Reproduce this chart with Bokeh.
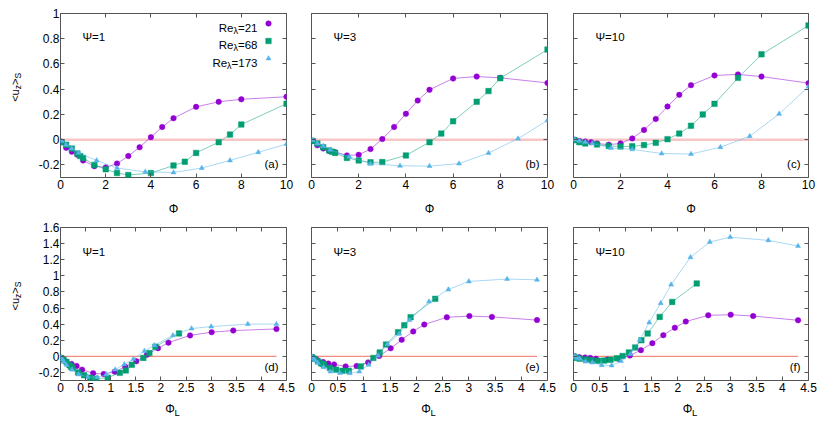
import math
from bokeh.plotting import figure
from bokeh.models import Range1d, FixedTicker, LinearAxis, Label, Spacer, CustomLabelingPolicy
from bokeh.layouts import row, column
from bokeh.embed import file_html
from bokeh.resources import INLINE

# ---------------- data ----------------
# top row: x = Phi
PHI_21 = [0.05, 0.25, 0.5, 0.75, 1, 1.5, 2, 2.5, 3, 3.5, 4, 4.5, 5, 6, 7, 8, 10]
PHI_68_AB = [0.05, 0.25, 0.5, 0.75, 0.875, 1, 1.5, 2, 2.5, 3, 4, 5, 5.5, 6, 7, 7.5, 8, 10]
PHI_68_C = [0.05, 0.25, 0.5, 1, 1.5, 2, 2.5, 3, 3.5, 4, 4.5, 5, 5.5, 6, 7, 8, 10]
PHI_173 = [0.05, 0.25, 0.5, 0.8, 1.6, 2.5, 3.75, 5, 6.25, 7.5, 8.75, 10]

# bottom row: x = Phi_L
PHIL_21 = [0.02, 0.11, 0.22, 0.32, 0.43, 0.65, 0.86, 1.08, 1.29, 1.51, 1.72, 1.94, 2.15, 2.58, 3.01, 3.44, 4.3]
PHIL_68_AB = [0.01, 0.06, 0.12, 0.18, 0.21, 0.24, 0.35, 0.47, 0.59, 0.71, 0.94, 1.18, 1.30, 1.42, 1.65, 1.77, 1.89, 2.36]
PHIL_68_C = [0.01, 0.06, 0.12, 0.24, 0.35, 0.47, 0.59, 0.71, 0.83, 0.94, 1.06, 1.18, 1.30, 1.42, 1.65, 1.89, 2.36]
PHIL_173 = [0.01, 0.04, 0.07, 0.12, 0.23, 0.36, 0.54, 0.73, 0.91, 1.09, 1.27, 1.45,
            1.67, 1.87, 2.24, 2.61, 3.0, 3.73, 4.3]

# Psi = 1
U_PSI1_21 = [-0.02, -0.065, -0.095, -0.12, -0.165, -0.21, -0.22, -0.19, -0.13, -0.06, 0.02, 0.10, 0.17, 0.26, 0.30, 0.32, 0.34]
U_PSI1_68 = [-0.02, -0.04, -0.07, -0.11, -0.13, -0.145, -0.20, -0.235, -0.265, -0.28, -0.265, -0.205, -0.175, -0.105, -0.02, 0.04, 0.12, 0.285]
U_PSI1_173 = [-0.01, -0.04, -0.07, -0.105, -0.165, -0.225, -0.255, -0.26, -0.225, -0.165, -0.10, -0.035]
U_PSI1_173_L = [-0.01, -0.04, -0.07, -0.105, -0.165, -0.225, -0.255, -0.26, -0.225, -0.165, -0.10, -0.035,
                0.066, 0.137, 0.26, 0.345, 0.37, 0.40, 0.40]
# Psi = 3
U_PSI3_21 = [-0.01, -0.045, -0.07, -0.09, -0.10, -0.125, -0.12, -0.075, 0.005, 0.10, 0.205, 0.31, 0.395, 0.485, 0.50, 0.49, 0.45]
U_PSI3_68 = [-0.01, -0.03, -0.06, -0.085, -0.095, -0.105, -0.145, -0.165, -0.18, -0.178, -0.125, -0.02, 0.048, 0.146, 0.30, 0.385, 0.487, 0.714]
U_PSI3_173 = [-0.005, -0.03, -0.05, -0.08, -0.135, -0.19, -0.207, -0.21, -0.19, -0.106, 0.008, 0.153]
U_PSI3_173_L = [-0.005, -0.03, -0.05, -0.08, -0.135, -0.19, -0.207, -0.21, -0.19, -0.106, 0.008, 0.153,
                0.28, 0.45, 0.68, 0.83, 0.93, 0.96, 0.95]
# Psi = 10
U_PSI10_21 = [0.0, -0.01, -0.015, -0.02, -0.03, -0.04, -0.03, 0.01, 0.077, 0.164, 0.263, 0.355, 0.432, 0.509, 0.517, 0.50, 0.448]
U_PSI10_68 = [-0.005, -0.02, -0.03, -0.038, -0.05, -0.054, -0.053, -0.043, -0.025, 0.004, 0.048, 0.11, 0.20, 0.284, 0.49, 0.676, 0.905]
U_PSI10_173 = [0.0, -0.01, -0.02, -0.03, -0.066, -0.077, -0.11, -0.114, -0.06, 0.027, 0.204, 0.42]
U_PSI10_173_L = [0.0, -0.01, -0.02, -0.03, -0.066, -0.077, -0.11, -0.114, -0.06, 0.027, 0.204, 0.42,
                 0.66, 0.89, 1.23, 1.42, 1.48, 1.44, 1.37]

ZERO_X_TOP = [0, 10]
ZERO_X_BOT = [0, 4.3]
ZERO_Y = [0, 0]

SERIES_NAMES = ["21", "68", "173"]
PSI_NAMES = ["1", "3", "10"]
PANEL_TAGS = ["(a)", "(b)", "(c)", "(d)", "(e)", "(f)"]

X_TICKS_TOP = [0, 2, 4, 6, 8, 10]
X_LABELS_TOP = ["0", "2", "4", "6", "8", "10"]
Y_TICKS_TOP = [-0.2, 0, 0.2, 0.4, 0.6, 0.8, 1.0]
Y_LABELS_TOP = ["-0.2", "0", "0.2", "0.4", "0.6", "0.8", "1"]
X_TICKS_BOT = [0, 0.5, 1, 1.5, 2, 2.5, 3, 3.5, 4, 4.5]
X_LABELS_BOT = ["0", "0.5", "1", "1.5", "2", "2.5", "3", "3.5", "4", "4.5"]
Y_TICKS_BOT = [-0.2, 0, 0.2, 0.4, 0.6, 0.8, 1.0, 1.2, 1.4, 1.6]
Y_LABELS_BOT = ["-0.2", "0", "0.2", "0.4", "0.6", "0.8", "1", "1.2", "1.4", "1.6"]

# ---------------- style ----------------
FONT = "Liberation Sans"
COLORS = ["#9400D3", "#009E73", "#56B4E9"]
MARKERS = ["circle", "square", "triangle"]
MSIZE = [5.5, 5.5, 5]
FRAME = "#555555"
TICK_FS = 12
TXT_FS = 11.5

WID = {'<': 0.584, '>': 0.584, 'u': 0.556, 'z': 0.5, 'S': 0.667, 'R': 0.722, 'e': 0.556,
       '=': 0.584, 'Φ': 0.778, 'L': 0.556, 'λ': 0.5, 'Ψ': 0.835, '(': 0.333, ')': 0.333}

HIDE_LABELS = CustomLabelingPolicy(code="""
const out = indices.clone ? indices.clone() : indices;
for (let i = 0; i < out.size; i++) out.unset(i);
return out;
""")


def tw(s, size):
    return sum(WID.get(c, 0.556) for c in s) * size


def rich(p, x, y, segs, ox=0.0, oy=0.0, align="left", vertical=False):
    """segs: (text, size_px, shift_px_down)"""
    total = sum(tw(t, s) for t, s, _ in segs)
    cum = {"left": 0.0, "center": -total / 2, "right": -total}[align]
    for t, s, sh in segs:
        if vertical:
            lab = Label(x=x, y=y, x_offset=ox + sh, y_offset=oy + cum, angle=math.pi / 2,
                        text=t, text_font=FONT, text_font_size=f"{s}px", text_color="black",
                        text_align="left", text_baseline="alphabetic")
        else:
            lab = Label(x=x, y=y, x_offset=ox + cum, y_offset=oy - sh,
                        text=t, text_font=FONT, text_font_size=f"{s}px", text_color="black",
                        text_align="left", text_baseline="alphabetic")
        p.add_layout(lab)
        cum += tw(t, s)


def style_axis(ax, ticks, labels, show):
    ax.ticker = FixedTicker(ticks=ticks)
    ax.axis_line_color = None
    ax.major_tick_in = 4
    ax.major_tick_out = 0
    ax.major_tick_line_color = FRAME
    ax.minor_tick_line_color = None
    ax.major_label_text_font = FONT
    ax.major_label_text_color = "black"
    if show:
        ax.major_label_overrides = {t: l for t, l in zip(ticks, labels)}
        ax.major_label_text_font_size = f"{TICK_FS}px"
    else:
        ax.major_label_policy = HIDE_LABELS
        ax.major_label_text_font_size = "1px"
        ax.major_label_standoff = 0


def bare_fig(width, height, xr, yr, bl=0, br=0, bt=0, bb=0):
    f = figure(width=width, height=height, output_backend="svg", toolbar_location=None,
               x_range=Range1d(*xr), y_range=Range1d(*yr), title=None,
               x_axis_type=None, y_axis_type=None,
               min_border_left=bl, min_border_right=br, min_border_top=bt, min_border_bottom=bb)
    f.grid.visible = False
    f.outline_line_color = None
    f.background_fill_color = "white"
    f.border_fill_color = "white"
    return f


def make_panel(width, height, bl, br, bt, bb, xr, yr, xt, xl, yt, yl, show_y):
    p = figure(width=width, height=height, output_backend="svg", toolbar_location=None,
               x_range=Range1d(*xr), y_range=Range1d(*yr), title=None,
               min_border_left=bl, min_border_right=br, min_border_top=bt, min_border_bottom=bb)
    p.grid.visible = False
    p.outline_line_color = FRAME
    p.outline_line_width = 1
    p.background_fill_color = "white"
    p.border_fill_color = "white"
    style_axis(p.xaxis[0], xt, xl, True)
    p.xaxis[0].major_label_standoff = 2
    style_axis(p.yaxis[0], yt, yl, show_y)
    if show_y:
        p.yaxis[0].major_label_standoff = 1
    top = LinearAxis()
    style_axis(top, xt, xl, False)
    p.add_layout(top, "above")
    right = LinearAxis()
    style_axis(right, yt, yl, False)
    p.add_layout(right, "right")
    return p


TOP = [
    (PHI_21, U_PSI1_21, PHI_68_AB, U_PSI1_68, PHI_173, U_PSI1_173),
    (PHI_21, U_PSI3_21, PHI_68_AB, U_PSI3_68, PHI_173, U_PSI3_173),
    (PHI_21, U_PSI10_21, PHI_68_C, U_PSI10_68, PHI_173, U_PSI10_173),
]
BOT = [
    (PHIL_21, U_PSI1_21, PHIL_68_AB, U_PSI1_68, PHIL_173, U_PSI1_173_L),
    (PHIL_21, U_PSI3_21, PHIL_68_AB, U_PSI3_68, PHIL_173, U_PSI3_173_L),
    (PHIL_21, U_PSI10_21, PHIL_68_C, U_PSI10_68, PHIL_173, U_PSI10_173_L),
]

# layout geometry (px)
YLAB_W = 30
COLS = [(268, 30, 12), (262, 13, 13), (270, 13, 22)]
# (panel height, border top, border bottom, x-label strip height, label offset from strip top)
ROWS_GEOM = [(197, 13, 20, 22, 11), (181, 8, 20, 31, 8.5)]

rows_out = []
for r, (rows, xr, yr, xt, xl, yt, yl, zx) in enumerate([
        (TOP, (0, 10), (-0.3, 1.0), X_TICKS_TOP, X_LABELS_TOP, Y_TICKS_TOP, Y_LABELS_TOP, ZERO_X_TOP),
        (BOT, (0, 4.5), (-0.3, 1.6), X_TICKS_BOT, X_LABELS_BOT, Y_TICKS_BOT, Y_LABELS_BOT, ZERO_X_BOT)]):
    h, bt, bb, sh, lab_off = ROWS_GEOM[r]
    panels, strips = [], []
    for c in range(3):
        w, bl, br = COLS[c]
        p = make_panel(w, h, bl, br, bt, bb, xr, yr, xt, xl, yt, yl, c == 0)
        if r == 0:
            p.line(zx, ZERO_Y, line_color="#F4A0A0", line_width=2.5, line_alpha=0.6)
        else:
            p.line(zx, ZERO_Y, line_color="#F08070", line_width=1.2, line_alpha=0.9)
        d = rows[c]
        for k in range(3):
            xs, ys = d[2 * k], d[2 * k + 1]
            p.line(xs, ys, line_color=COLORS[k], line_width=1, line_alpha=0.5)
            p.scatter(xs, ys, marker=MARKERS[k], size=MSIZE[k], fill_color=COLORS[k],
                      line_color=COLORS[k], line_width=0.5)
        # Psi label
        p.add_layout(Label(x=xr[0], y=yr[1], x_offset=22, y_offset=-23 if r == 0 else -24,
                           text=f"Ψ={PSI_NAMES[c]}", text_font=FONT, text_font_size=f"{TXT_FS}px",
                           text_align="left", text_baseline="middle", text_color="black"))
        # panel tag
        p.add_layout(Label(x=xr[1], y=yr[0], x_offset=-8, y_offset=14,
                           text=PANEL_TAGS[3 * r + c], text_font=FONT, text_font_size=f"{TXT_FS}px",
                           text_align="right", text_baseline="middle", text_color="black"))
        panels.append(p)
        # x-axis label strip
        s = bare_fig(w, sh, xr, (0, sh), bl=bl, br=br)
        xmid = (xr[0] + xr[1]) / 2
        if r == 0:
            rich(s, xmid, 0, [("Φ", 12, 0)], oy=sh - lab_off, align="center")
        else:
            rich(s, xmid, 0, [("Φ", 12, 0), ("L", 9.5, 3)], ox=-1, oy=sh - lab_off, align="center")
        strips.append(s)
    # y-axis label strip
    ys_fig = bare_fig(YLAB_W, h, (0, YLAB_W), yr, bt=bt, bb=bb)
    ystart = 0.30 if r == 0 else 0.57
    rich(ys_fig, 0, ystart, [("<u", 11, 0), ("z", 8.5, 3), (">", 11, 0), ("S", 8.5, 3)],
         ox=14, vertical=True)
    rows_out.append(row(ys_fig, *panels, spacing=0))
    rows_out.append(row(Spacer(width=YLAB_W, height=sh), *strips, spacing=0))

# legend in panel (a)
pa = rows_out[0].children[1]
ppu = 226 / 10.0
for k in range(3):
    yrow = 1.0 - (10 + 17.5 * k) / 164.0 * 1.3
    rich(pa, 10, yrow, [("Re", TXT_FS, 0), ("λ", 9, 3), ("=" + SERIES_NAMES[k], TXT_FS, 0)],
         ox=-29, oy=-4, align="right")
    pa.scatter([10 - 18 / ppu], [yrow], marker=MARKERS[k], size=MSIZE[k],
               fill_color=COLORS[k], line_color=COLORS[k], line_width=0.5)

layout = column(*rows_out, spacing=0)
open("out.html", "w").write(file_html(layout, INLINE))
